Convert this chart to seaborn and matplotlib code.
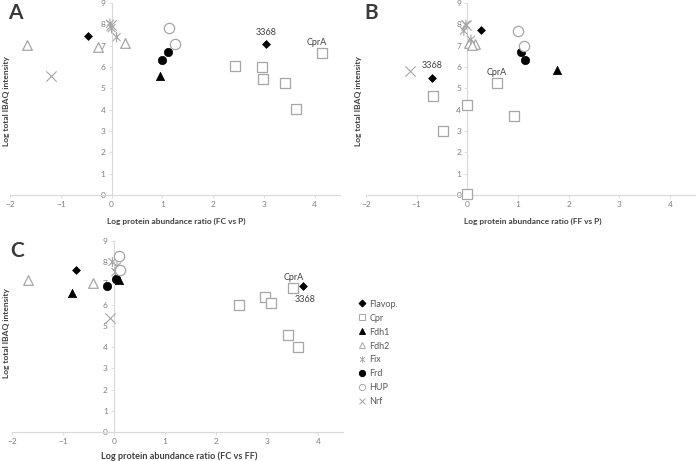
import matplotlib
matplotlib.use('Agg')
import matplotlib.pyplot as plt
import seaborn as sns
from matplotlib.path import Path
from matplotlib.lines import Line2D

sns.set_theme(style="white")
plt.rcParams['font.family'] = ['Lato', 'DejaVu Sans']

# ---------- data ----------
groups = ['Flavop.', 'Cpr', 'Fdh1', 'Fdh2', 'Fix', 'Frd', 'HUP', 'Nrf']

# panel A : FC vs P
a_group = ['Flavop.', 'Flavop.',
           'Cpr', 'Cpr', 'Cpr', 'Cpr', 'Cpr', 'Cpr',
           'Fdh1',
           'Fdh2', 'Fdh2', 'Fdh2',
           'Fix', 'Fix', 'Fix',
           'Frd', 'Frd',
           'HUP', 'HUP',
           'Nrf', 'Nrf']
a_x = [-0.47, 3.05,
       2.43, 2.97, 2.99, 3.42, 3.63, 4.14,
       0.96,
       -1.66, -0.27, 0.26,
       -0.03, 0.0, 0.10,
       1.00, 1.12,
       1.13, 1.26,
       -1.20, -0.02]
a_y = [7.46, 7.07,
       6.07, 5.98, 5.46, 5.26, 4.05, 6.65,
       5.59,
       7.01, 6.96, 7.12,
       8.03, 7.82, 7.40,
       6.34, 6.70,
       7.81, 7.07,
       5.60, 7.95]

# panel B : FF vs P
b_group = ['Flavop.', 'Flavop.',
           'Cpr', 'Cpr', 'Cpr', 'Cpr', 'Cpr', 'Cpr',
           'Fdh1',
           'Fdh2', 'Fdh2', 'Fdh2',
           'Fix', 'Fix', 'Fix',
           'Frd', 'Frd',
           'HUP', 'HUP',
           'Nrf', 'Nrf']
b_x = [0.27, -0.70,
       -0.68, -0.49, -0.01, -0.01, 0.58, 0.93,
       1.76,
       0.04, 0.15, 0.09,
       -0.03, 0.07, -0.07,
       1.06, 1.13,
       1.00, 1.12,
       -1.13, -0.02]
b_y = [7.72, 5.48,
       4.66, 3.00, 4.23, 0.03, 5.23, 3.68,
       5.87,
       7.12, 7.07, 7.05,
       7.98, 7.28, 7.70,
       6.68, 6.34,
       7.70, 7.00,
       5.79, 7.95]

# panel C : FC vs FF
c_group = ['Flavop.', 'Flavop.',
           'Cpr', 'Cpr', 'Cpr', 'Cpr', 'Cpr', 'Cpr',
           'Fdh1', 'Fdh1',
           'Fdh2', 'Fdh2',
           'Fix', 'Fix', 'Fix',
           'Frd', 'Frd',
           'HUP', 'HUP',
           'Nrf']
c_x = [-0.74, 3.71,
       2.46, 2.97, 3.09, 3.42, 3.62, 3.52,
       -0.82, 0.10,
       -1.69, -0.42,
       -0.03, 0.03, 0.06,
       -0.14, 0.05,
       0.10, 0.12,
       -0.07]
c_y = [7.62, 6.87,
       5.99, 6.34, 6.06, 4.57, 4.02, 6.79,
       6.57, 7.15,
       7.15, 7.03,
       8.01, 7.54, 7.80,
       6.90, 7.20,
       8.28, 7.65,
       5.35]

# labelled proteins: (text, x, y)
a_notes = [('3368', 3.05, 7.6), ('CprA', 4.05, 7.15)]
b_notes = [('3368', -0.70, 6.05), ('CprA', 0.58, 5.75)]
c_notes = [('CprA', 3.52, 7.3), ('3368', 3.75, 6.25)]

# ---------- marker styles (Excel-like) ----------
star = Path([(-1, -1), (1, 1), (-1, 1), (1, -1), (0, -1.3), (0, 1.3)],
            [Path.MOVETO, Path.LINETO, Path.MOVETO, Path.LINETO, Path.MOVETO, Path.LINETO])
grey = '#a6a6a6'
styles = {
    'Flavop.': dict(marker='D', s=16, color='black', facecolor='black', edgecolor='black', linewidth=0.5),
    'Cpr':     dict(marker='s', s=55, color=grey, facecolor='white', edgecolor=grey, linewidth=0.9),
    'Fdh1':    dict(marker='^', s=36, color='black', facecolor='black', edgecolor='black', linewidth=0.5),
    'Fdh2':    dict(marker='^', s=48, color=grey, facecolor='white', edgecolor=grey, linewidth=0.9),
    'Fix':     dict(marker=star, s=55, color=grey, facecolor='none', edgecolor=grey, linewidth=0.8),
    'Frd':     dict(marker='o', s=36, color='black', facecolor='black', edgecolor='black', linewidth=0.5),
    'HUP':     dict(marker='o', s=55, color=grey, facecolor='white', edgecolor=grey, linewidth=0.9),
    'Nrf':     dict(marker='x', s=55, color=grey, linewidth=0.8),
}

axis_col = '#d9d9d9'
tick_col = '#808080'
text_col = '#404040'

fig = plt.figure(figsize=(6.96, 4.61), dpi=100)
ax_a = fig.add_axes([0.0144, 0.577, 0.474, 0.4165])
ax_b = fig.add_axes([0.526, 0.577, 0.473, 0.4165])
ax_c = fig.add_axes([0.0172, 0.0629, 0.476, 0.4143])

panels = [
    (ax_a, a_group, a_x, a_y, a_notes, 'Log protein abundance ratio (FC vs P)', 'A', 6.0, -0.12),
    (ax_b, b_group, b_x, b_y, b_notes, 'Log protein abundance ratio (FF vs P)', 'B', 6.0, -0.12),
    (ax_c, c_group, c_x, c_y, c_notes, 'Log protein abundance ratio (FC vs FF)', 'C', 6.6, -0.10),
]

for ax, grp, xs, ys, notes, xlab, letter, xl_size, xl_y in panels:
    for g in groups:
        px = [x for x, gg in zip(xs, grp) if gg == g]
        py = [y for y, gg in zip(ys, grp) if gg == g]
        if not px:
            continue
        sns.scatterplot(x=px, y=py, ax=ax, clip_on=False, zorder=3, **styles[g])
    for t, x, y in notes:
        ax.text(x, y, t, fontsize=6.5, color=text_col, ha='center', va='center')

    ax.set_xlim(-2, 4.5)
    ax.set_ylim(0, 9)
    ax.set_xticks(range(-2, 5))
    ax.set_yticks(range(0, 10))
    ax.spines['left'].set_position(('data', 0))
    for side in ['top', 'right']:
        ax.spines[side].set_visible(False)
    for side in ['left', 'bottom']:
        ax.spines[side].set_color(axis_col)
        ax.spines[side].set_linewidth(0.8)
    ax.tick_params(axis='both', labelsize=6, colors=tick_col, length=2.5,
                   width=0.6, pad=2, left=True, bottom=True)
    ax.tick_params(axis='both', color=axis_col)
    ax.patch.set_alpha(0)

    ax.set_xlabel(xlab, fontsize=xl_size, color=text_col, fontweight='bold')
    ax.xaxis.set_label_coords(0.505, xl_y)
    ax.set_ylabel('Log total IBAQ intensity', fontsize=6.0, color=text_col, fontweight='bold')

    ax.text(-0.005, 1.0, letter, transform=ax.transAxes, fontsize=15,
            fontweight='bold', color='#3a3a3a', ha='left', va='top')

ax_a.yaxis.set_label_coords(0.0, 0.49)
ax_b.yaxis.set_label_coords(-0.012, 0.49)
ax_c.yaxis.set_label_coords(-0.005, 0.52)

# legend in the empty bottom-right corner
handles = []
for g in groups:
    st = styles[g]
    fc = st.get('facecolor', 'none')
    handles.append(Line2D([], [], linestyle='none', marker=st['marker'],
                          markersize=4.5 if g != 'Flavop.' else 3.5,
                          markerfacecolor=fc, markeredgecolor=st.get('edgecolor', st['color']),
                          markeredgewidth=0.7, label=g))
fig.legend(handles=handles, loc='upper left', bbox_to_anchor=(355 / 696, 1 - 296 / 461),
           frameon=False, fontsize=6.5, labelcolor='#595959', handlelength=0.8,
           handletextpad=0.4, labelspacing=0.55, borderaxespad=0)

plt.savefig('out.png', dpi=100)
